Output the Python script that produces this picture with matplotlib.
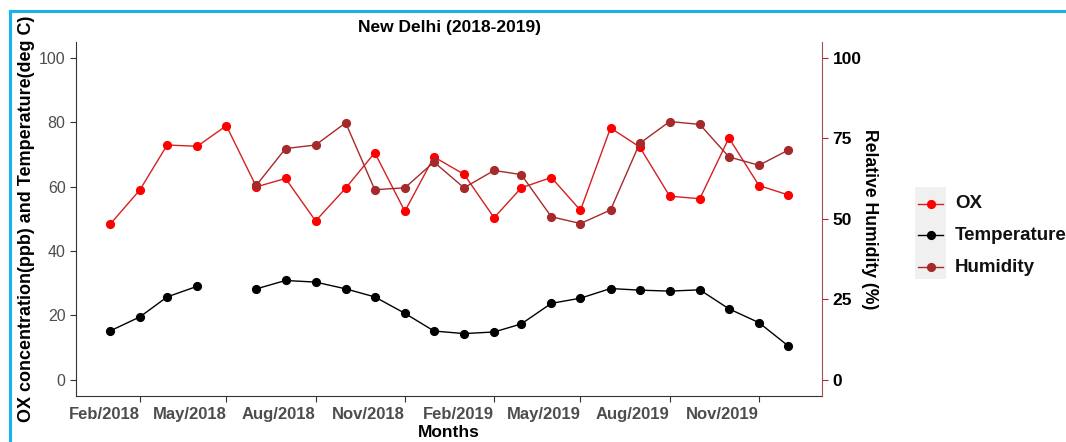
import matplotlib
matplotlib.use("Agg")
import matplotlib.pyplot as plt
import matplotlib.dates as mdates
from matplotlib.lines import Line2D
from matplotlib.patches import Rectangle
import numpy as np
import pandas as pd

plt.rcParams['font.family'] = ['Liberation Sans', 'DejaVu Sans']

months = pd.date_range("2018-01-01", "2019-12-01", freq="MS")
ox = [48.2, 59.0, 72.9, 72.5, 78.9, 59.9, 62.5, 49.3, 59.5, 70.5, 52.3, 69.2,
      63.8, 50.3, 59.6, 62.8, 52.6, 78.2, 72.3, 57.0, 56.2, 75.1, 60.3, 57.4]
temperature = [15.1, 19.5, 25.7, 29.0, np.nan, 28.2, 30.8, 30.3, 28.2, 25.7, 20.6, 15.1,
               14.3, 14.8, 17.3, 23.7, 25.3, 28.3, 27.8, 27.5, 27.9, 22.0, 17.7, 10.5]
humidity = [np.nan, np.nan, np.nan, np.nan, np.nan, 60.4, 71.8, 72.9, 79.8, 59.0, 59.6, 67.6,
            59.6, 65.0, 63.7, 50.6, 48.5, 52.7, 73.4, 80.2, 79.3, 69.2, 66.6, 71.3]
tick_dates = pd.date_range("2018-02-01", "2019-11-01", freq="3MS")
left_ticks = [0, 20, 40, 60, 80, 100]
right_ticks = [0, 25, 50, 75, 100]

OX_C = '#ff0000'
OX_L = '#d42020'
HUM_C = '#a52a2a'
TEMP_C = '#000000'

W, H = 1066, 442
fig = plt.figure(figsize=(W / 100, H / 100), dpi=100)
ax = fig.add_axes([76 / W, 1 - 395.7 / H, (822 - 76) / W, (395.7 - 41.7) / H])
ax2 = ax.twinx()

ms = 5.6
ax.plot(months, ox, color=OX_L, lw=1.0, marker='o', ms=ms, mfc=OX_C, mec=OX_C, zorder=3)
ax.plot(months, temperature, color=TEMP_C, lw=1.0, marker='o', ms=ms, mfc=TEMP_C, mec=TEMP_C, zorder=3)
ax2.plot(months, humidity, color=HUM_C, lw=1.0, marker='o', ms=ms, mfc=HUM_C, mec=HUM_C, zorder=4)

span = months[-1] - months[0]
ax.set_xlim(months[0] - span * 0.05, months[-1] + span * 0.05)
ax.set_ylim(-5, 105)
ax2.set_ylim(-5, 105)

ax.set_xticks(tick_dates)
ax.xaxis.set_major_formatter(mdates.DateFormatter('%b/%Y'))
for lab in ax.get_xticklabels():
    lab.set_ha('right')
ax.tick_params(axis='x', labelsize=12, labelcolor='#4d4d4d', length=4, color='#333333', pad=4)
for lab in ax.get_xticklabels():
    lab.set_fontweight('bold')

ax.set_yticks(left_ticks)
ax.tick_params(axis='y', labelsize=11.5, labelcolor='#4d4d4d', length=4, color='#333333')
ax2.set_yticks(right_ticks)
ax2.tick_params(axis='y', labelsize=12.5, labelcolor='black', length=4, color=HUM_C)
for lab in ax2.get_yticklabels():
    lab.set_fontweight('bold')

for a in (ax, ax2):
    a.spines['top'].set_visible(False)
ax.spines['right'].set_visible(False)
ax2.spines['left'].set_visible(False)
ax2.spines['bottom'].set_visible(False)
ax2.spines['right'].set_color('#a05050')
ax.spines['left'].set_color('#333333')
ax.spines['bottom'].set_color('#333333')

ax.set_xlabel('Months', fontsize=12.5, fontweight='bold', labelpad=2)
ax.set_ylabel('OX concentration(ppb) and Temperature(deg C)', fontsize=13, fontweight='bold', labelpad=3)
ax2.set_ylabel('Relative Humidity (%)', fontsize=12.7, fontweight='bold', rotation=-90, labelpad=12)
ax.set_title('New Delhi (2018-2019)', fontsize=12.5, fontweight='bold', pad=7)

# legend
fig.patches.append(Rectangle((915 / W, 1 - 279 / H), 31 / W, 92 / H, transform=fig.transFigure,
                             facecolor='#f0f0f0', edgecolor='none'))
for y, c, lc, name in [(204, OX_C, OX_L, 'OX'), (235, TEMP_C, TEMP_C, 'Temperature'), (267, HUM_C, HUM_C, 'Humidity')]:
    yf = 1 - y / H
    fig.add_artist(Line2D([918 / W, 943 / W], [yf, yf], color=lc, lw=1.0, transform=fig.transFigure))
    fig.add_artist(Line2D([930.5 / W], [yf], color=c, marker='o', ms=5.6, transform=fig.transFigure))
    fig.text(955 / W, yf, name, fontsize=13.5, fontweight='bold', va='center', ha='left', color='#111111')

# outer frame (cyan)
fig.add_artist(Line2D([9.5 / W, 1.0], [1 - 11 / H, 1 - 11 / H], color='#1ab2ec', lw=2.2, transform=fig.transFigure))
fig.add_artist(Line2D([9.5 / W, 9.5 / W], [0, 1 - 11 / H], color='#1ab2ec', lw=2.2, transform=fig.transFigure))

fig.savefig('out.png', dpi=100)
